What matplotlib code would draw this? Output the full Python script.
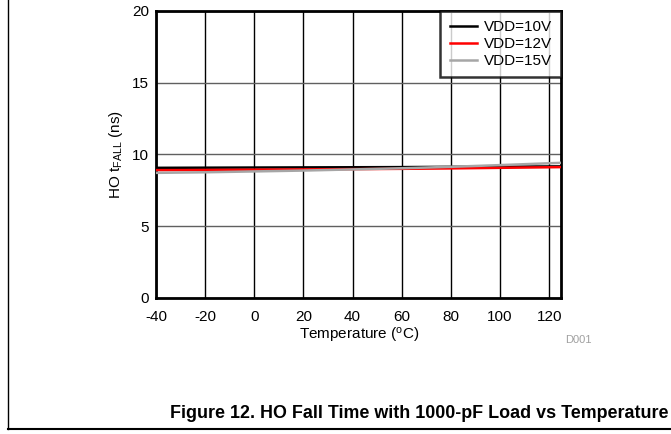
import matplotlib.pyplot as plt
from matplotlib.lines import Line2D

plt.rcParams['font.family'] = ['Liberation Sans', 'DejaVu Sans']
plt.rcParams['mathtext.fontset'] = 'custom'
plt.rcParams['mathtext.rm'] = 'Liberation Sans'
plt.rcParams['mathtext.it'] = 'Liberation Sans'
plt.rcParams['axes.unicode_minus'] = False

# data
temp = [-40, -20, 0, 20, 40, 60, 80, 100, 125]
vdd10 = [9.07, 9.08, 9.09, 9.10, 9.11, 9.12, 9.14, 9.15, 9.17]
vdd12 = [8.91, 8.92, 8.94, 8.96, 8.98, 9.00, 9.03, 9.07, 9.12]
vdd15 = [8.72, 8.76, 8.82, 8.88, 8.96, 9.04, 9.14, 9.26, 9.42]

series = [("VDD=10V", vdd10, "black"),
          ("VDD=12V", vdd12, "red"),
          ("VDD=15V", vdd15, "#a6a6a6")]

fig = plt.figure(figsize=(6.71, 4.34), dpi=100)
ax = fig.add_axes([0.2325, 0.3134, 0.6043, 0.6613])

for lab, vals, col in series:
    ax.plot(temp, vals, color=col, lw=1.8, label=lab, zorder=3)

ax.set_xlim(-40, 125)
ax.set_ylim(0, 20)
ax.set_xticks(range(-40, 121, 20))
ax.set_yticks(range(0, 21, 5))
ax.tick_params(length=0, labelsize=11)
ax.tick_params(axis='x', pad=9)
ax.tick_params(axis='y', pad=5)
ax.grid(axis='x', color='black', lw=1)
ax.grid(axis='y', color='#606060', lw=1)
for s in ax.spines.values():
    s.set_linewidth(2)

ax.set_xlabel("Temperature ($^{o}$C)", fontsize=11, labelpad=1)
ax.set_ylabel("HO t$_{FALL}$ (ns)", fontsize=11, labelpad=5)

leg = ax.legend(loc='upper right', fontsize=11, frameon=True, fancybox=False,
                borderaxespad=0, handlelength=1.8, labelspacing=0.18,
                borderpad=0.62, handletextpad=0.45)
leg.get_frame().set_edgecolor('black')
leg.get_frame().set_linewidth(1.8)

fig.text(565 / 671, 1 - 340 / 434, "D001", color='#a0a0a0', fontsize=8,
         ha='left', va='center')
fig.text(668 / 671, 1 - 413 / 434,
         "Figure 12. HO Fall Time with 1000-pF Load vs Temperature",
         fontsize=12.9, fontweight='bold', ha='right', va='center')

fig.add_artist(Line2D([8 / 671, 8 / 671], [1 - 429 / 434, 1], color='black', lw=1))
fig.add_artist(Line2D([8 / 671, 1], [1 - 429 / 434, 1 - 429 / 434], color='black', lw=1.5))

fig.savefig("out.png", dpi=100)
